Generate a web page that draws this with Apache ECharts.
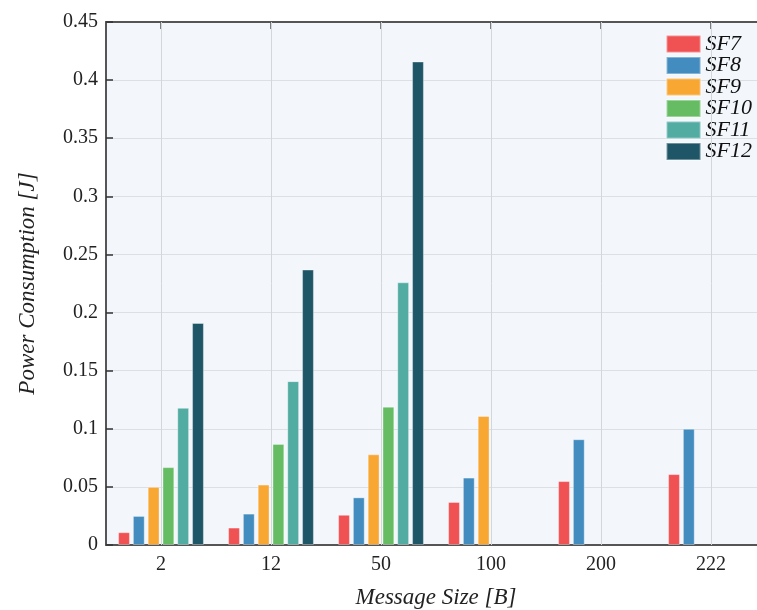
<!DOCTYPE html>
<html><head><meta charset="utf-8">
<script src="https://cdn.jsdelivr.net/npm/echarts@6/dist/echarts.min.js"></script>
<style>html,body{margin:0;padding:0;background:#fff}#c{width:757px;height:610px}</style>
</head><body><div id="c"></div>
<script>
const categories = ['2', '12', '50', '100', '200', '222'];
const seriesNames = ['SF7', 'SF8', 'SF9', 'SF10', 'SF11', 'SF12'];
const sf7  = [0.011, 0.015, 0.026, 0.037, 0.055, 0.061];
const sf8  = [0.025, 0.027, 0.041, 0.058, 0.091, 0.100];
const sf9  = [0.050, 0.052, 0.078, 0.111, null, null];
const sf10 = [0.067, 0.087, 0.119, null, null, null];
const sf11 = [0.118, 0.141, 0.226, null, null, null];
const sf12 = [0.191, 0.237, 0.416, null, null, null];
const yTicks = [0, 0.05, 0.1, 0.15, 0.2, 0.25, 0.3, 0.35, 0.4, 0.45];
const colors = ['#F05254', '#438CBF', '#F8A732', '#66BC62', '#52ACA2', '#1F5667'];
const allData = [sf7, sf8, sf9, sf10, sf11, sf12];

const font = 'Liberation Serif';
const chart = echarts.init(document.getElementById('c'), null, {renderer: 'canvas'});
chart.setOption({
  backgroundColor: '#ffffff',
  animation: false,
  color: colors,
  legend: {
    right: 0, top: 28, orient: 'vertical', itemWidth: 34, itemHeight: 17, itemGap: -0.5,
    icon: 'rect',
    textStyle: {fontFamily: font, fontStyle: 'italic', fontSize: 22, color: '#111'},
    data: seriesNames
  },
  grid: {left: 106, top: 22, width: 660, bottom: 65, backgroundColor: '#F3F7FC', show: true, borderWidth: 0,
         outerBoundsMode: 'none', containLabel: false},
  xAxis: [{
    type: 'category', data: categories, position: 'bottom',
    name: 'Message Size [B]', nameLocation: 'middle', nameGap: 41,
    nameTextStyle: {fontFamily: font, fontStyle: 'italic', fontSize: 23, color: '#222'},
    axisLine: {lineStyle: {color: '#555', width: 2}},
    axisTick: {alignWithLabel: true, inside: true, length: 7, lineStyle: {color: '#333', width: 1.5}},
    axisLabel: {fontFamily: font, fontSize: 20, color: '#222', margin: 10},
    splitLine: {show: false}
  }, {
    type: 'category', data: categories, position: 'top',
    axisLine: {lineStyle: {color: '#555', width: 2}},
    axisTick: {show: true, alignWithLabel: true, inside: true, length: 7, lineStyle: {color: '#555', width: 1.5}},
    axisLabel: {show: false}
  }],
  yAxis: {
    type: 'value', min: 0, max: 0.45, interval: 0.05,
    name: 'Power Consumption [J]', nameLocation: 'middle', nameGap: 67, nameRotate: 90,
    nameTextStyle: {fontFamily: font, fontStyle: 'italic', fontSize: 23, color: '#222'},
    axisLine: {show: true, lineStyle: {color: '#555', width: 2}},
    axisTick: {show: true, inside: true, length: 7, lineStyle: {color: '#333', width: 1.5}},
    axisLabel: {fontFamily: font, fontSize: 20, color: '#222', margin: 8,
      formatter: v => { const t = yTicks.find(x => Math.abs(x - v) < 1e-9); return String(+(t ?? v).toFixed(2)); }},
    splitLine: {lineStyle: {color: '#DCDFE4', width: 1}}
  },
  series: seriesNames.map((n, i) => ({
    name: n, type: 'bar', data: allData[i], xAxisIndex: 0,
    barGap: '25%', barCategoryGap: '22%',
    itemStyle: {color: colors[i], borderColor: 'rgba(255,255,255,0.35)', borderWidth: 1}
  })).concat([{
    type: 'line', xAxisIndex: 0, data: [], silent: true,
    markLine: {silent: true, symbol: 'none', label: {show: false},
      lineStyle: {color: '#D3D6DB', type: 'solid', width: 1},
      data: categories.map(c => ({xAxis: c}))}, z: 0
  }])
});
</script></body></html>
